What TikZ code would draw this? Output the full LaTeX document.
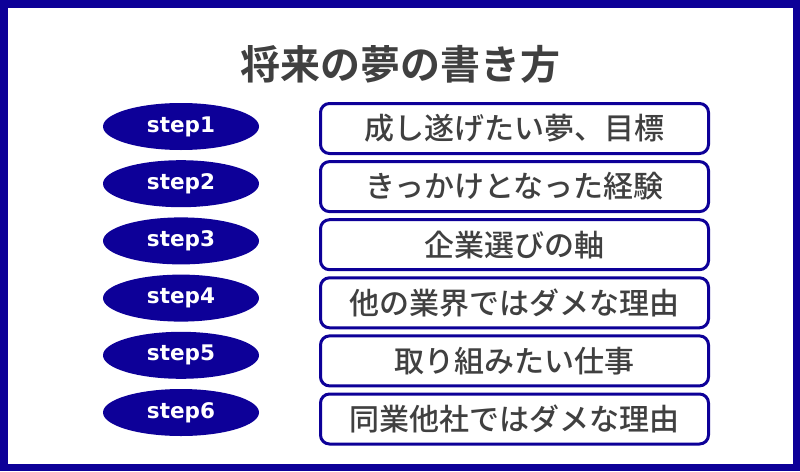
\documentclass[tikz,border=0pt]{standalone}
\usepackage{fontspec}
\usepackage{tikz}
\usetikzlibrary{shapes}
\newfontfamily\jpfont{Noto Sans CJK JP}[BoldFont={Noto Sans CJK JP Bold}]
\newfontfamily\jpmedium{Noto Sans CJK JP Medium}
\newfontfamily\stepfont{DejaVu Sans}
\definecolor{NavyFrame}{RGB}{13,0,152}
\definecolor{InkGray}{RGB}{64,64,64}

\begin{document}
\begin{tikzpicture}[x=1pt, y=-1pt,
  stepoval/.style={draw=none, ellipse, inner sep=0pt, minimum width=156pt, minimum height=47pt, fill=NavyFrame, text=white, font=\stepfont\bfseries\fontsize{21.5}{21.5}\selectfont},
  itembox/.style={draw=NavyFrame, line width=3pt, rounded corners=9pt, inner sep=0pt, minimum width=388pt, minimum height=50pt, fill=white, text=InkGray, font=\jpmedium\fontsize{30}{30}\selectfont}]
\useasboundingbox (0,0) rectangle (800,471);
\draw[NavyFrame, line width=7.5pt] (3.75,3.75) rectangle (796.25,467.25);

\node[text=InkGray, font=\jpfont\bfseries\fontsize{40}{40}\selectfont] (title) at (400,64) {将来の夢の書き方};

\node[stepoval] (step1) at (181,126.5) {step1};
\node[stepoval] (step2) at (181,183.7) {step2};
\node[stepoval] (step3) at (181,240.9) {step3};
\node[stepoval] (step4) at (181,298.1) {step4};
\node[stepoval] (step5) at (181,355.3) {step5};
\node[stepoval] (step6) at (181,412.5) {step6};

\node[itembox] (dream) at (514.5,128.5) {成し遂げたい夢、目標};
\node[itembox] (trigger) at (514.5,186.6) {きっかけとなった経験};
\node[itembox] (axis) at (514.5,244.7) {企業選びの軸};
\node[itembox] (industry) at (514.5,302.8) {他の業界ではダメな理由};
\node[itembox] (work) at (514.5,360.9) {取り組みたい仕事};
\node[itembox] (rival) at (514.5,419) {同業他社ではダメな理由};

\end{tikzpicture}
\end{document}
